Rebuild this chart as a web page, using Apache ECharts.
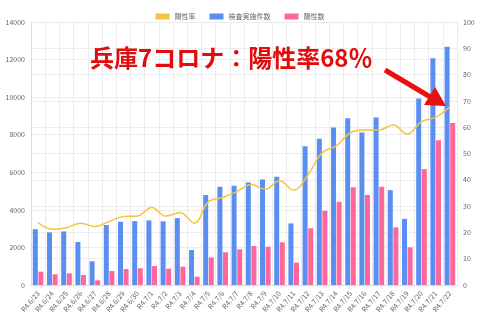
<!DOCTYPE html>
<html>
<head>
<meta charset="utf-8">
<script src="https://cdn.jsdelivr.net/npm/echarts@6/dist/echarts.min.js"></script>
<style>
html,body{margin:0;padding:0;background:#fff;}
#main{width:480px;height:320px;}
</style>
</head>
<body>
<div id="main"></div>
<script>
var dates = ['R4.6/23','R4.6/24','R4.6/25','R4.6/26','R4.6/27','R4.6/28','R4.6/29','R4.6/30',
  'R4.7/1','R4.7/2','R4.7/3','R4.7/4','R4.7/5','R4.7/6','R4.7/7','R4.7/8','R4.7/9','R4.7/10',
  'R4.7/11','R4.7/12','R4.7/13','R4.7/14','R4.7/15','R4.7/16','R4.7/17','R4.7/18','R4.7/19',
  'R4.7/20','R4.7/21','R4.7/22'];
var tests = [2970,2800,2850,2290,1260,3190,3370,3400,3440,3390,3560,1860,4790,5230,5280,
  5460,5620,5760,3280,7390,7790,8390,8880,8120,8920,5050,3520,9930,12070,12680];
var positives = [710,570,620,530,250,745,850,890,1010,870,975,440,1470,1740,1900,
  2075,2040,2270,1190,3020,3950,4430,5200,4790,5230,3070,2005,6170,7710,8630];
var rate = [23.7,21.2,21.8,23.5,22.2,24.1,26.0,26.2,29.5,26.2,27.6,23.5,31.7,33.3,35.5,
  38.2,36.4,39.6,36.1,41.8,50.3,52.9,57.9,58.9,58.9,60.8,57.4,62.1,63.8,67.8];

var chart = echarts.init(document.getElementById('main'));
var axisLbl = {color:'#666', fontSize:7, fontFamily:'Noto Sans CJK JP'};
var option = {
  animation: false,
  legend: {
    top: 8,
    left: 'center',
    itemWidth: 14,
    itemHeight: 6,
    itemGap: 14,
    icon: 'rect',
    textStyle: {color:'#666', fontSize:7, fontFamily:'Noto Sans CJK JP'},
    data: ['陽性率','検査実施件数','陽性数']
  },
  grid: {left:31, right:23, top:22, bottom:35},
  xAxis: {
    type: 'category',
    data: dates,
    axisLine: {lineStyle:{color:'#ddd'}},
    axisTick: {show:false},
    axisLabel: Object.assign({rotate:50, margin:7, interval:0}, axisLbl),
    splitLine: {show:true, interval:0, lineStyle:{color:'#ececec'}}
  },
  yAxis: [{
    type: 'value', min:0, max:14000, interval:2000,
    axisLine: {show:true, lineStyle:{color:'#ddd'}},
    axisLabel: Object.assign({margin:6, formatter: function (v) { return String(v); }}, axisLbl),
    splitLine: {lineStyle:{color:'#ececec'}}
  },{
    type: 'value', min:0, max:100, interval:10,
    axisLine: {show:false},
    axisLabel: Object.assign({margin:6}, axisLbl),
    splitLine: {lineStyle:{color:'#ececec'}}
  }],
  series: [{
    name: '陽性率', type: 'line', yAxisIndex: 1, data: rate,
    smooth: 0.4, showSymbol: false, z: 5,
    itemStyle: {color:'#f5c43c'},
    lineStyle: {color:'#f5c43c', width:1.5}
  },{
    name: '検査実施件数', type: 'bar', data: tests,
    barWidth: 5, barGap: '12%',
    itemStyle: {color:'#5a8ef2'}
  },{
    name: '陽性数', type: 'bar', data: positives,
    barWidth: 5,
    itemStyle: {color:'#ff6699'}
  }],
  graphic: [{
    type: 'text', left: 90, top: 46, z: 100,
    style: {text:'兵庫7コロナ：陽性率68％', fill:'#e30b0b',
      font:'bold 24px "Noto Sans CJK JP"'}
  },{
    type: 'line', z: 100,
    shape: {x1:385, y1:70, x2:432, y2:98},
    style: {stroke:'#e81010', lineWidth:5}
  },{
    type: 'polygon', z: 100,
    shape: {points:[[446,106],[424,105],[435,87]]},
    style: {fill:'#e81010'}
  }]
};
chart.setOption(option);
</script>
</body>
</html>
